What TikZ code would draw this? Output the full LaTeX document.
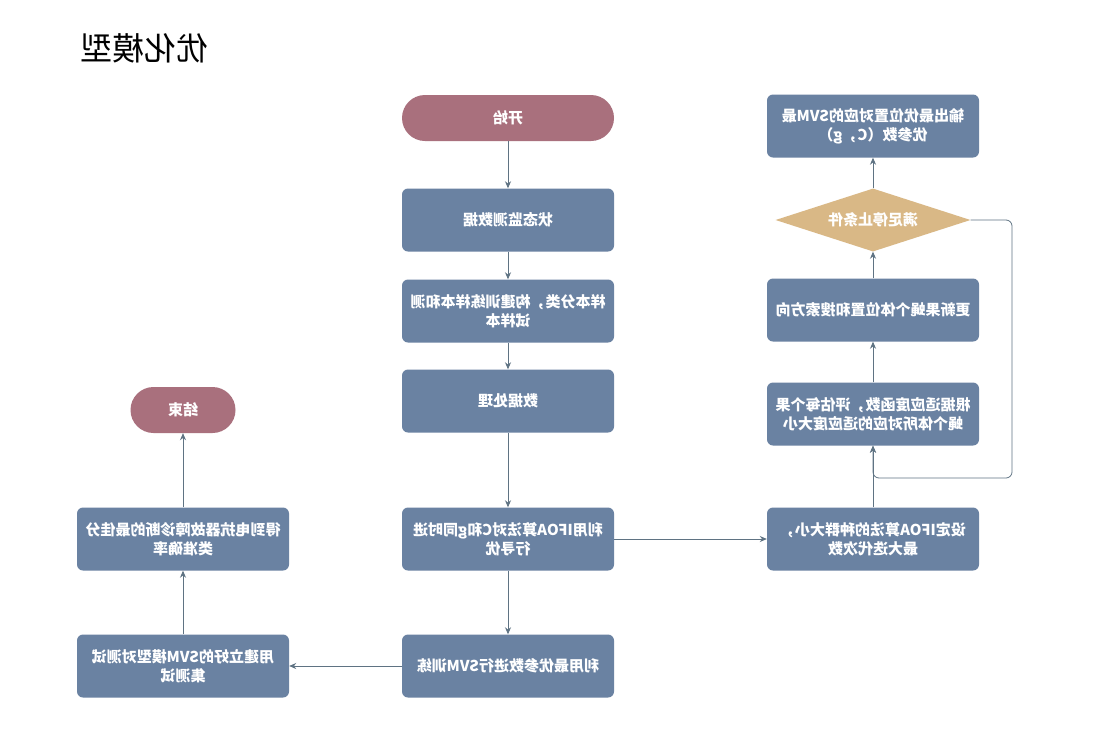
\documentclass[tikz,border=0pt]{standalone}
\usepackage{fontspec}
\newfontfamily\cjk{Noto Sans CJK SC}
\usetikzlibrary{%
  positioning
 ,arrows.meta
 ,shapes.geometric
}
\definecolor{boxblue}{HTML}{6A82A2}
\definecolor{pillred}{HTML}{A9707D}
\definecolor{diagold}{HTML}{D9B886}
\definecolor{linegray}{HTML}{5F7383}
\tikzstyle{box}=[rectangle,rounded corners=6pt,fill=boxblue,minimum width=212pt,minimum height=63pt]
\tikzstyle{pill}=[rectangle,rounded corners=23pt,fill=pillred,minimum height=46pt]
\tikzstyle{cond}=[diamond,aspect=3.1,fill=diagold,minimum width=195pt,minimum height=63pt,inner sep=1pt]

\begin{document}
\begin{tikzpicture}[x=1pt,y=-1pt,%
  every node/.style={xscale=-1,align=center,text=white,inner sep=2pt,%
    font=\cjk\bfseries\fontsize{15}{19}\selectfont},%
  arr/.style={draw=linegray,thick,-{Stealth[length=7pt,width=6pt]}}]
\useasboundingbox[fill=white] (0,0) rectangle (1114,753);
\node[text=black,font=\cjk\fontsize{32}{36}\selectfont](title)at(144,48){优化模型};
% middle column
\node[pill,minimum width=212pt](start)at(508,118){开始};
\node[box](mon)at(508,220){状态监测数据};
\node[box](smp)at(508,311){样本分类，构建训练样本和测\\试样本};
\node[box](pre)at(508,401){数据处理};
\node[box](opt)at(508,539){利用IFOA算法对C和g同时进\\行寻优};
\node[box](trn)at(508,666){利用最优参数进行SVM训练};
% left column
\node[box](tst)at(183,666){用建立好的SVM模型对测试\\集测试};
\node[box](acc)at(183,539){得到电抗器故障诊断的最佳分\\类准确率};
\node[pill,minimum width=105pt](stop)at(183,410){结束};
% right column
\node[box](ini)at(873,539){设定IFOA算法的种群大小，\\最大迭代次数};
\node[box](fit)at(873,414){根据适应度函数，评估每个果\\蝇个体所对应的适应度大小};
\node[box](upd)at(873,310){更新果蝇个体位置和搜索方向};
\node[cond](chk)at(873,220){满足停止条件};
\node[box](out)at(873,126){输出最优位置对应的SVM最\\优参数（C，g）};
\coordinate(lp1)at(1012,220);
\coordinate(lp2)at(1012,478);
\coordinate(lp3)at(873,478);
\draw[arr] (start)--(mon);
\draw[arr] (mon)--(smp);
\draw[arr] (smp)--(pre);
\draw[arr] (pre)--(opt);
\draw[arr] (opt)--(trn);
\draw[arr] (opt)--(ini);
\draw[arr] (trn)--(tst);
\draw[arr] (tst)--(acc);
\draw[arr] (acc)--(stop);
\draw[arr] (ini)--(fit);
\draw[arr] (fit)--(upd);
\draw[arr] (upd)--(chk);
\draw[arr] (chk)--(out);
\draw[arr,rounded corners=6pt] (chk)--(lp1)--(lp2)--(lp3)--(fit);
\end{tikzpicture}
\end{document}
